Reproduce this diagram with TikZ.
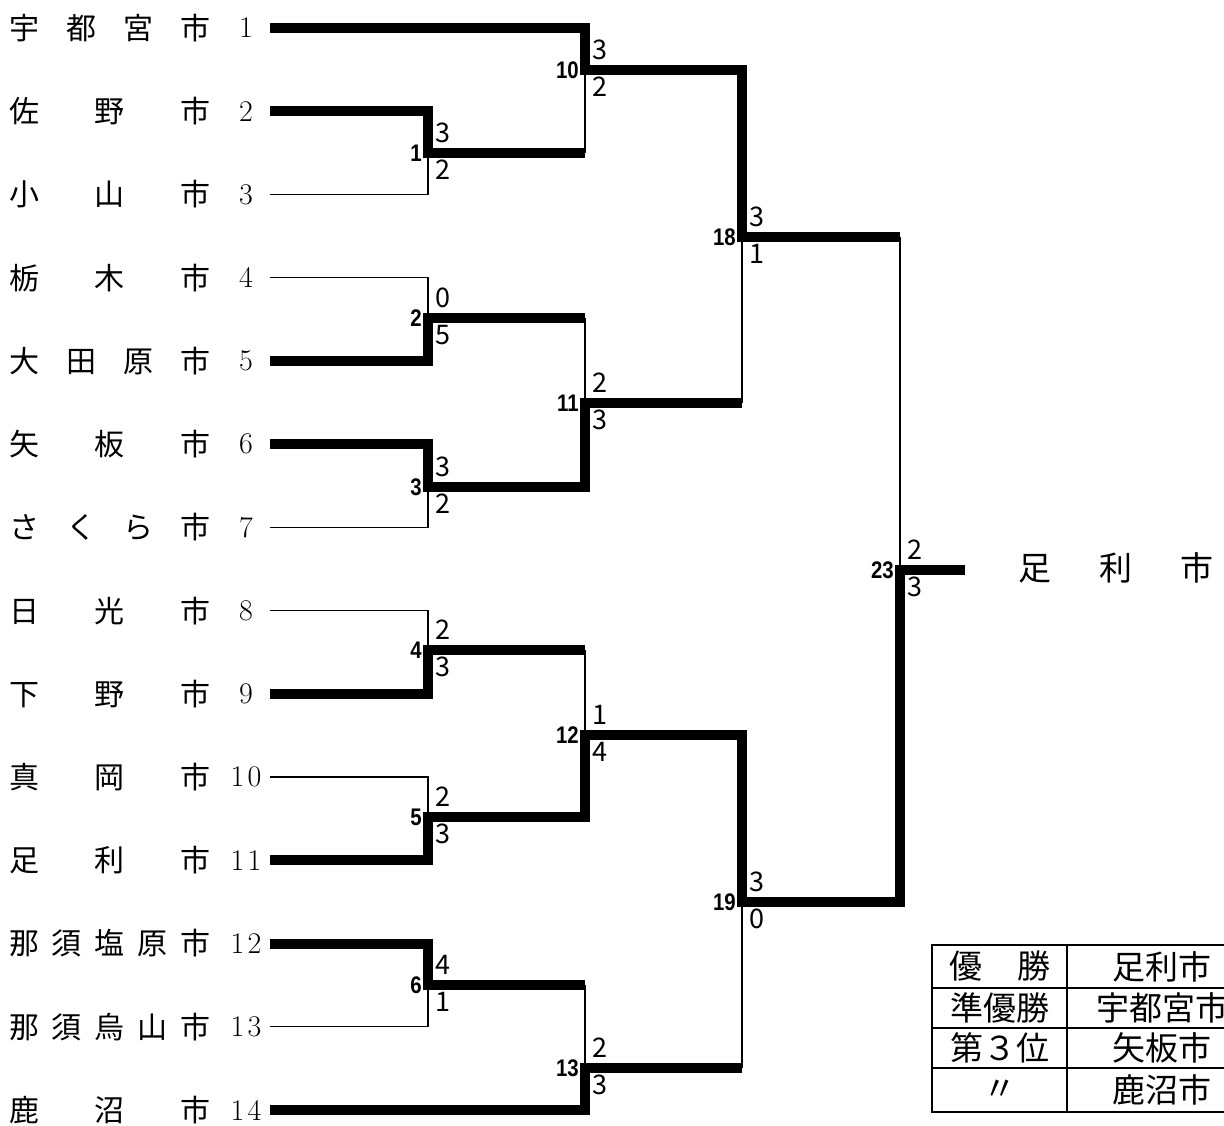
\documentclass[tikz,border=0pt]{standalone}
\usepackage{fontspec}
\newfontfamily\jpfont{Noto Sans CJK JP}
\newfontfamily\matchfont[FakeStretch=0.85]{Liberation Sans}
\usetikzlibrary{positioning}
\tikzset{
  won/.style={line width=10pt},
  lost/.style={line width=1.2pt},
  team/.style={inner sep=0pt, font=\jpfont\fontsize{30}{30}\selectfont},
  teamno/.style={inner sep=0pt, font=\fontsize{30}{30}\selectfont},
  score/.style={inner sep=0pt, font=\jpfont\fontsize{27}{27}\selectfont},
  matchno/.style={inner sep=0pt, font=\matchfont\bfseries\fontsize{24}{24}\selectfont},
  cell/.style={inner sep=0pt, font=\jpfont\fontsize{33}{33}\selectfont},
}

\begin{document}
\begin{tikzpicture}[x=1pt,y=-1pt]
  \useasboundingbox (0,0) rectangle (1224,1126);
  \clip (0,0) rectangle (1224,1126);
  % teams
  \foreach \i/\nm/\no in {1/宇\hfill 都\hfill 宮\hfill 市/1, 2/佐\hfill 野\hfill 市/2,
    3/小\hfill 山\hfill 市/3, 4/栃\hfill 木\hfill 市/4, 5/大\hfill 田\hfill 原\hfill 市/5,
    6/矢\hfill 板\hfill 市/6, 7/さ\hfill く\hfill ら\hfill 市/7, 8/日\hfill 光\hfill 市/8,
    9/下\hfill 野\hfill 市/9, 10/真\hfill 岡\hfill 市/{1\kern3pt 0},
    11/足\hfill 利\hfill 市/{1\kern3pt 1}, 12/那\hfill 須\hfill 塩\hfill 原\hfill 市/{1\kern3pt 2},
    13/那\hfill 須\hfill 烏\hfill 山\hfill 市/{1\kern3pt 3}, 14/鹿\hfill 沼\hfill 市/{1\kern3pt 4}} {
    \pgfmathsetmacro\ty{28+(\i-1)*83.23}
    \node[team, anchor=west] (n\i) at (9,\ty) {\hbox to 201pt{\nm}};
    \node[teamno] (d\i) at (246,\ty) {\no};
    \coordinate (t\i) at (270,\ty);
  }
  % match junctions
  \foreach \m/\x/\y in {1/428/153, 2/428/318, 3/428/487, 4/428/650, 5/428/817, 6/428/985,
    10/585/70, 11/585/403, 12/585/735, 13/585/1068, 18/742/237, 19/742/902, 23/900/570}
    \coordinate (m\m) at (\x,\y);
  \coordinate (win) at (965,570);
  % losers
  \foreach \t/\m in {3/1, 4/2, 7/3, 8/4, 10/5, 13/6}
    \draw[lost] (t\t) -| (m\m);
  \foreach \a/\b in {1/10, 2/11, 11/18, 4/12, 6/13, 13/19, 18/23}
    \draw[lost] (m\a -| m\b) -- (m\b);
  % winners
  \draw[won] (t1) -| (m10) -| (m18) -- (m18 -| m23);
  \draw[won] (t2) -| (m1) -- (m1 -| m10);
  \draw[won] (t5) -| (m2) -- (m2 -| m11);
  \draw[won] (t6) -| (m3) -| (m11) -- (m11 -| m18);
  \draw[won] (t9) -| (m4) -- (m4 -| m12);
  \draw[won] (t11) -| (m5) -| (m12) -| (m19) -| (m23) -- (win);
  \draw[won] (t12) -| (m6) -- (m6 -| m13);
  \draw[won] (t14) -| (m13) -- (m13 -| m19);
  % scores
  \foreach \m/\u/\l in {1/3/2, 2/0/5, 3/3/2, 4/2/3, 5/2/3, 6/4/1, 10/3/2, 11/2/3,
    12/1/4, 13/2/3, 18/3/1, 19/3/0, 23/2/3} {
    \node[score, above right=10pt and 7pt of m\m] (su\m) {\u};
    \node[score, below right=7pt and 7pt of m\m] (sl\m) {\l};
    \node[matchno, left=6pt of m\m] (mn\m) {\m};
  }
  % champion
  \node[team, font=\jpfont\fontsize{33}{33}\selectfont] (champ) at (1116,568)
    {\hbox to 196pt{足\hfill 利\hfill 市}};
  % result table
  \draw[lost] (932,945) rectangle (1252,1112);
  \foreach \y in {988,1028,1068}
    \draw[lost] (932,\y) -- (1252,\y);
  \draw[lost] (1067,945) -- (1067,1112);
  \foreach \r/\y/\a/\b in {1/966.5/{\hbox to 102pt{優\hfill 勝}}/足利市,
    2/1008/準優勝/宇都宮市, 3/1048/第３位/矢板市, 4/1090/〃/鹿沼市} {
    \node[cell] (ca\r) at (1000,\y) {\a};
    \node[cell] (cb\r) at (1162,\y) {\b};
  }
\end{tikzpicture}
\end{document}
